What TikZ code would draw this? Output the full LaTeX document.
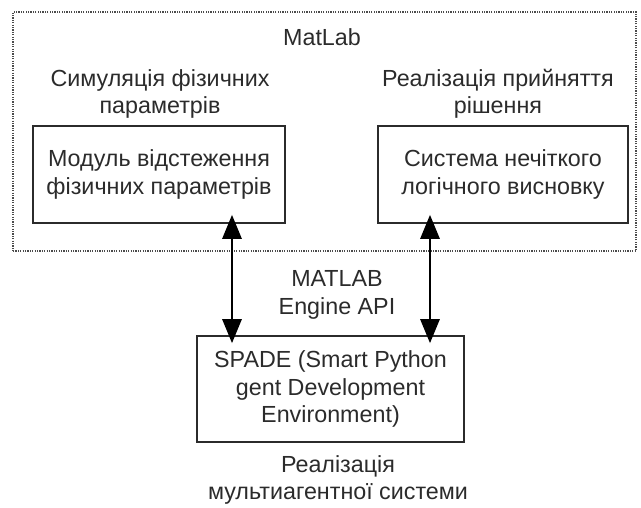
\documentclass[tikz,border=0pt]{standalone}
\usepackage{fontspec}
\setmainfont{Liberation Sans}
\usetikzlibrary{arrows.meta}
\definecolor{ink}{HTML}{2B2B2B}
\begin{document}
\begin{tikzpicture}[x=1pt,y=-1pt,
  every node/.style={text=ink,font=\fontsize{23.3}{27.5}\selectfont,align=center,inner sep=0pt},
  box/.style={draw=ink,line width=1.6pt},
  biarrow/.style={draw=black,line width=2.8pt,{Triangle[length=24pt,width=19pt]}-{Triangle[length=24pt,width=19pt]}},
  frame/.style={draw=ink!85,line width=1.4pt,dash pattern=on 1.2pt off 1.2pt}]
\useasboundingbox (0,0) rectangle (641,507);
\node[frame,minimum width=623pt,minimum height=239pt] (matlab) at (324.5,131.5) {};
\node (mtitle) at (322,37) {MatLab};
\node (lsim) at (160,94) {Симуляція фізичних\\параметрів};
\node (ldec) at (498,94) {Реалізація прийняття\\рішення};
\node[box,minimum width=252pt,minimum height=97pt] (mod) at (159,174.5) {Модуль відстеження\\фізичних параметрів};
\node[box,minimum width=250pt,minimum height=97pt] (fis) at (503,174.5) {Система нечіткого\\логічного висновку};
\node[box,minimum width=267pt,minimum height=106pt] (spade) at (330.5,389) {SPADE (Smart Python\\gent Development\\Environment)};
\node (api) at (337,295) {MATLAB\\Engine API};
\node (lmas) at (338,480) {Реалізація\\мультиагентної системи};
\coordinate (a1) at (232,0);
\coordinate (a2) at (430,0);
\draw[biarrow] ([yshift=9pt]mod.south -| a1) -- ([yshift=-8pt]spade.north -| a1);
\draw[biarrow] ([yshift=9pt]fis.south -| a2) -- ([yshift=-8pt]spade.north -| a2);
\end{tikzpicture}
\end{document}
